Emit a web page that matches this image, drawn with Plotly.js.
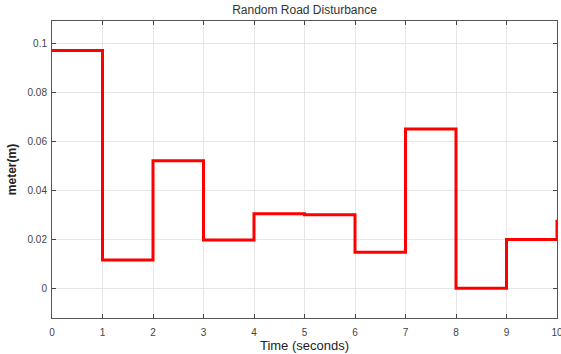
<!DOCTYPE html>
<html><head><meta charset="utf-8">
<script src="https://cdn.plot.ly/plotly-3.0.1.min.js"></script>
<style>html,body{margin:0;padding:0;background:#fff}#c{width:561px;height:354px}</style>
</head><body><div id="c"></div>
<script>
const time = [0, 1, 2, 3, 4, 5, 6, 7, 8, 9, 10];
const disturbance = [0.097, 0.0115, 0.052, 0.0197, 0.0304, 0.030, 0.0147, 0.065, 0.0, 0.0199, 0.028];
const xTicks = [0,1,2,3,4,5,6,7,8,9,10];
const yTicks = [0, 0.02, 0.04, 0.06, 0.08, 0.1];
const yTickText = ['0','0.02','0.04','0.06','0.08','0.1'];

const trace = {x: time, y: disturbance, mode: 'lines', line: {shape: 'hv', color: '#ff0000', width: 3}, hoverinfo: 'skip'};
const axisCommon = {showline: true, linecolor: '#555', linewidth: 1, mirror: 'ticks', ticks: 'inside', ticklen: 4,
  tickcolor: '#444', gridcolor: '#e6e6e6', zeroline: false, ticklabeloverflow: 'allow',
  tickfont: {family: 'Liberation Sans, Arial', size: 10, color: '#444'}};
const layout = {
  width: 561, height: 354, margin: {l: 52, r: 4, t: 21, b: 36}, paper_bgcolor: '#fff', plot_bgcolor: '#fff',
  showlegend: false,
  title: {text: 'Random Road Disturbance', font: {family: 'Liberation Sans, Arial', size: 12, color: '#333'}, x: 0.5, xref: 'paper', y: 0.985, yanchor: 'top'},
  xaxis: Object.assign({}, axisCommon, {range: [0, 10], tickvals: xTicks, ticktext: xTicks.map(String), ticklabelstandoff: 5,
    title: {text: 'Time (seconds)', font: {family: 'Liberation Sans, Arial', size: 13, color: '#222'}, standoff: 3}}),
  yaxis: Object.assign({}, axisCommon, {range: [-0.0121, 0.109], tickvals: yTicks, ticktext: yTickText, ticklabelstandoff: 2,
    title: {text: '<b>meter(m)</b>', font: {family: 'Liberation Sans, Arial', size: 12, color: '#222'}, standoff: 8}})
};
Plotly.newPlot('c', [trace], layout, {staticPlot: true, displayModeBar: false});
</script></body></html>
